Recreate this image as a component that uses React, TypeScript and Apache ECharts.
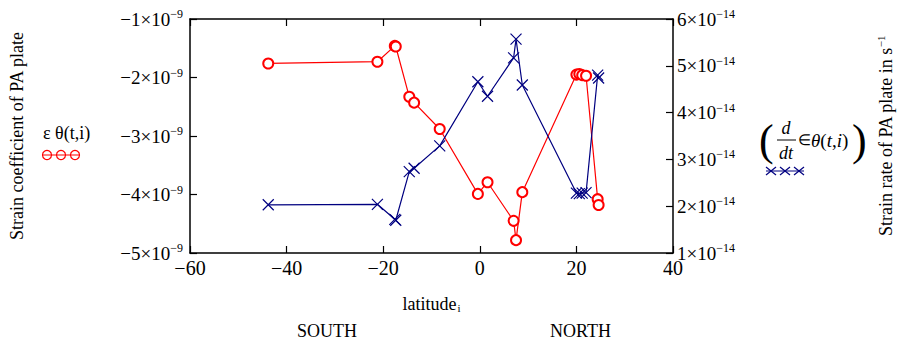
import React, { useEffect, useRef } from "react";
import * as echarts from "echarts";

const latitude = [-43.8, -21.2, -17.6, -17.4, -14.6, -13.6, -8.3, -0.4, 1.6, 7.0, 7.5, 8.8, 20.0, 20.6, 21.2, 22.0, 24.4, 24.6];
const strainCoeff = [-1.76e-9, -1.73e-9, -1.46e-9, -1.47e-9, -2.33e-9, -2.43e-9, -2.88e-9, -3.99e-9, -3.79e-9, -4.45e-9, -4.78e-9, -3.96e-9, -1.95e-9, -1.94e-9, -1.96e-9, -1.97e-9, -4.08e-9, -4.18e-9];
const strainRate = [2.03e-14, 2.04e-14, 1.72e-14, 1.70e-14, 2.74e-14, 2.81e-14, 3.29e-14, 4.66e-14, 4.35e-14, 5.17e-14, 5.57e-14, 4.59e-14, 2.28e-14, 2.27e-14, 2.28e-14, 2.29e-14, 4.80e-14, 4.74e-14];

const SERIF = "'Liberation Serif', 'Times New Roman', serif";
const RED = "#ff0000";
const BLUE = "#000080";
const CROSS = "path://M0,0L10,10M10,0L0,10";

const minus = (n: number) => (n < 0 ? "−" + Math.abs(n) : String(n));

const supRich = {
  b: { fontSize: 19, fontFamily: SERIF, color: "#000", lineHeight: 22 },
  s: { fontSize: 12, fontFamily: SERIF, color: "#000", verticalAlign: "top" },
};

const axisLine = { show: true, onZero: false, lineStyle: { color: "#000", width: 1.5 } };
const axisTick = { show: true, inside: true, length: 7, lineStyle: { color: "#000", width: 1.2 } };

export default function App() {
  const ref = useRef<HTMLDivElement>(null);
  useEffect(() => {
    document.body.style.margin = "0";
    const chart = echarts.init(ref.current!, null, { renderer: "svg" });
    const crossAt = (cx: number, cy: number) => ({
      type: "group",
      children: [
        { type: "line", shape: { x1: cx - 5, y1: cy - 4, x2: cx + 5, y2: cy + 4 }, style: { stroke: BLUE, lineWidth: 1.2 } },
        { type: "line", shape: { x1: cx - 5, y1: cy + 4, x2: cx + 5, y2: cy - 4 }, style: { stroke: BLUE, lineWidth: 1.2 } },
      ],
    });
    chart.setOption({
      animation: false,
      backgroundColor: "#fff",
      grid: { left: 190, right: 228, top: 19, bottom: 89, containLabel: false, outerBoundsMode: "none" },
      xAxis: [
        {
          type: "value",
          min: -60,
          max: 40,
          interval: 20,
          position: "bottom",
          name: "{b|latitude}{sub|i}",
          nameLocation: "middle",
          nameGap: 42,
          nameTextStyle: {
            rich: {
              b: { fontSize: 18, fontFamily: SERIF, color: "#000" },
              sub: { fontSize: 11, fontFamily: SERIF, color: "#000", verticalAlign: "bottom", padding: [0, 0, 0, 1] },
            },
          },
          axisLine,
          axisTick,
          axisLabel: { formatter: (v: number) => minus(v), fontSize: 20, fontFamily: SERIF, color: "#000", margin: 5 },
          splitLine: { show: false },
        },
        {
          type: "value",
          min: -60,
          max: 40,
          interval: 20,
          position: "top",
          axisLine,
          axisTick,
          axisLabel: { show: false },
          splitLine: { show: false },
        },
      ],
      yAxis: [
        {
          type: "value",
          min: -5e-9,
          max: -1e-9,
          interval: 1e-9,
          position: "left",
          name: "Strain coefficient of PA plate",
          nameLocation: "middle",
          nameRotate: 90,
          nameGap: 164,
          nameTextStyle: { fontSize: 18, fontFamily: SERIF, color: "#000" },
          axisLine,
          axisTick,
          axisLabel: {
            formatter: (v: number) => {
              const m = Math.round(v / 1e-9);
              return `{b|${minus(m)}×10}{s|−9}`;
            },
            margin: 7,
            rich: supRich,
          },
          splitLine: { show: false },
        },
        {
          type: "value",
          min: 1e-14,
          max: 6e-14,
          interval: 1e-14,
          position: "right",
          name: "{b|Strain rate of PA plate in s}{s|−1}",
          nameLocation: "middle",
          nameRotate: 90,
          nameGap: 202,
          nameTextStyle: {
            rich: {
              b: { fontSize: 18, fontFamily: SERIF, color: "#000", lineHeight: 22 },
              s: { fontSize: 11, fontFamily: SERIF, color: "#000", verticalAlign: "top" },
            },
          },
          axisLine,
          axisTick,
          axisLabel: {
            formatter: (v: number) => {
              const m = Math.round(v / 1e-14);
              return `{b|${m}×10}{s|−14}`;
            },
            margin: 4,
            rich: supRich,
          },
          splitLine: { show: false },
        },
      ],
      series: [
        {
          type: "line",
          xAxisIndex: 0,
          yAxisIndex: 0,
          data: latitude.map((x, i) => [x, strainCoeff[i]]),
          symbol: "emptyCircle",
          symbolSize: 10,
          showAllSymbol: true,
          lineStyle: { color: RED, width: 1.2 },
          itemStyle: { color: RED, borderColor: RED, borderWidth: 1.2 },
        },
        {
          type: "line",
          xAxisIndex: 0,
          yAxisIndex: 1,
          data: latitude.map((x, i) => [x, strainRate[i]]),
          symbol: CROSS,
          symbolSize: 11,
          showAllSymbol: true,
          lineStyle: { color: BLUE, width: 1.2 },
          itemStyle: { color: "rgba(0,0,0,0)", borderColor: BLUE, borderWidth: 1.2 },
        },
      ],
      graphic: [
        // red legend
        { type: "text", left: 43, top: 124, style: { text: "ε θ(t,i)", fontSize: 18, fontFamily: SERIF, fill: "#000" } },
        { type: "line", shape: { x1: 42, y1: 155, x2: 80, y2: 155 }, style: { stroke: RED, lineWidth: 1.2 } },
        { type: "circle", shape: { cx: 47, cy: 155, r: 4.5 }, style: { stroke: RED, fill: "none", lineWidth: 1.2 } },
        { type: "circle", shape: { cx: 61, cy: 155, r: 4.5 }, style: { stroke: RED, fill: "none", lineWidth: 1.2 } },
        { type: "circle", shape: { cx: 75, cy: 155, r: 4.5 }, style: { stroke: RED, fill: "none", lineWidth: 1.2 } },
        // blue legend
        { type: "text", left: 759, top: 118, style: { text: "(", fontSize: 44, fontFamily: SERIF, fill: "#000" } },
        { type: "text", x: 786, y: 128, style: { text: "d", fontSize: 18, fontStyle: "italic", fontFamily: SERIF, fill: "#000", align: "center", verticalAlign: "middle" } },
        { type: "line", shape: { x1: 777, y1: 140, x2: 796, y2: 140 }, style: { stroke: "#000", lineWidth: 1 } },
        { type: "text", x: 786, y: 153, style: { text: "dt", fontSize: 18, fontStyle: "italic", fontFamily: SERIF, fill: "#000", align: "center", verticalAlign: "middle" } },
        { type: "text", x: 798, y: 140, style: { text: "∈", fontSize: 15, fontFamily: SERIF, fill: "#000", verticalAlign: "middle" } },
        {
          type: "text",
          x: 811,
          y: 140,
          style: {
            text: "{i|θ}{r|(}{i|t}{r|,}{i|i}{r|)}",
            verticalAlign: "middle",
            rich: {
              i: { fontSize: 19, fontStyle: "italic", fontFamily: SERIF, fill: "#000" },
              r: { fontSize: 19, fontFamily: SERIF, fill: "#000" },
            },
          },
        },
        { type: "text", left: 852, top: 118, style: { text: ")", fontSize: 44, fontFamily: SERIF, fill: "#000" } },
        { type: "line", shape: { x1: 766, y1: 171, x2: 804, y2: 171 }, style: { stroke: BLUE, lineWidth: 1.2 } },
        crossAt(771, 171),
        crossAt(785, 171),
        crossAt(799, 171),
        // region labels
        { type: "text", left: 297, top: 322, style: { text: "SOUTH", fontSize: 18, fontFamily: SERIF, fill: "#000" } },
        { type: "text", left: 550, top: 322, style: { text: "NORTH", fontSize: 18, fontFamily: SERIF, fill: "#000" } },
      ],
    });
    return () => chart.dispose();
  }, []);
  return <div ref={ref} style={{ width: 901, height: 342 }} />;
}
